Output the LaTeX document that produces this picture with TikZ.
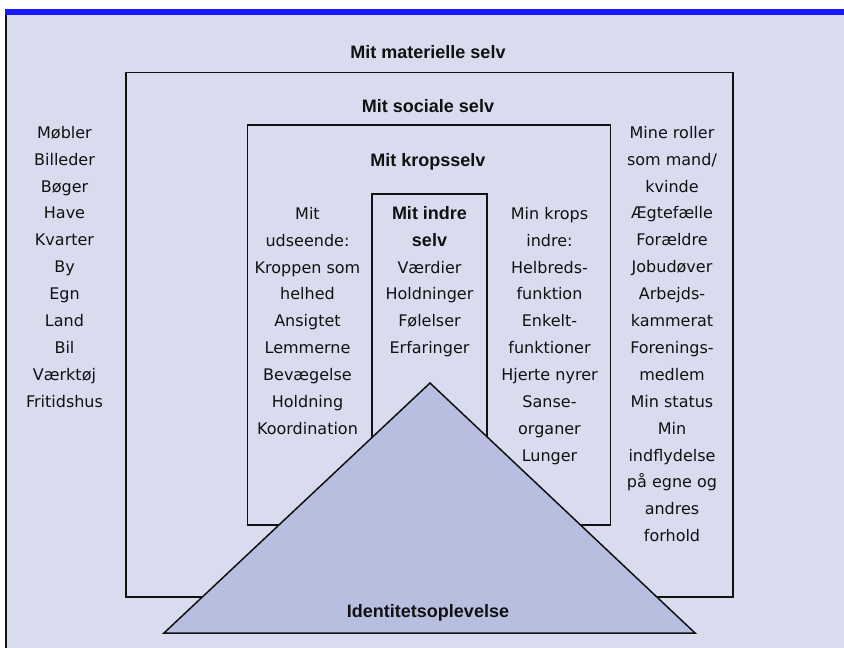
\documentclass[tikz,border=0pt]{standalone}
\usepackage{fontspec}
\setmainfont{DejaVu Sans}
\newfontfamily\headfont{Liberation Sans}
\definecolor{panel}{RGB}{217,220,239}
\definecolor{pyramid}{RGB}{184,190,223}
\definecolor{topbar}{RGB}{26,26,255}
\definecolor{ink}{RGB}{17,17,17}
\tikzset{
  frame/.style={draw=ink, line width=1.8pt},
  column/.style={anchor=north, inner sep=0pt, align=center, text=ink,
    font=\fontsize{16}{26.9}\selectfont},
  heading/.style={anchor=base, inner sep=0pt, text=ink,
    font=\headfont\bfseries\fontsize{18}{20}\selectfont},
}
\newcommand{\hd}{\headfont\bfseries\fontsize{18}{26.9}\selectfont}
\begin{document}
\begin{tikzpicture}[x=1pt, y=-1pt]
  \useasboundingbox (0,0) rectangle (844,648);
  % panel, top bar and left edge
  \fill[panel] (5,15) rectangle (844,648);
  \fill[topbar] (5,9) rectangle (844,15);
  \draw[ink, line width=1.5pt] (6,15) -- (6,648);

  % nested frames
  \draw[frame] (126,72.5) rectangle (733,597);
  \draw[frame] (247.5,125) rectangle (610.5,525);
  \draw[frame] (372,194) rectangle (487,580);

  % headings
  \node[heading] (materiel) at (428,58) {Mit materielle selv};
  \node[heading] (social) at (428,112) {Mit sociale selv};
  \node[heading] (krop) at (428,166) {Mit kropsselv};

  % outer columns
  \node[column] (ting) at (64.5,119.2) {\strut Møbler\\Billeder\\Bøger\\Have\\Kvarter\\By\\Egn\\Land\\Bil\\Værktøj\\Fritidshus};
  \node[column] (roller) at (672,119.2) {\strut Mine roller\\som mand/\\kvinde\\Ægtefælle\\Forældre\\Jobudøver\\Arbejds-\\kammerat\\Forenings-\\medlem\\Min status\\Min\\indflydelse\\på egne og\\andres\\forhold};

  % inner columns
  \node[column] (udseende) at (307.5,200.2) {\strut Mit\\udseende:\\Kroppen som\\helhed\\Ansigtet\\Lemmerne\\Bevægelse\\Holdning\\Koordination};
  \node[column] (indre) at (429.5,200.2) {\strut{\hd Mit indre}\\{\hd selv}\\Værdier\\Holdninger\\Følelser\\Erfaringer};
  \node[column] (kropsindre) at (549.5,200.2) {\strut Min krops\\indre:\\Helbreds-\\funktion\\Enkelt-\\funktioner\\Hjerte nyrer\\Sanse-\\organer\\Lunger};

  % identity pyramid
  \coordinate (apex) at (430,383);
  \coordinate (baseL) at (164,633);
  \coordinate (baseR) at (695,633);
  \draw[fill=pyramid, draw=ink, line width=1.5pt, line join=miter] (baseL) -- (apex) -- (baseR) -- cycle;
  \node[heading] (identitet) at (428,617.5) {Identitetsoplevelse};
\end{tikzpicture}
\end{document}
